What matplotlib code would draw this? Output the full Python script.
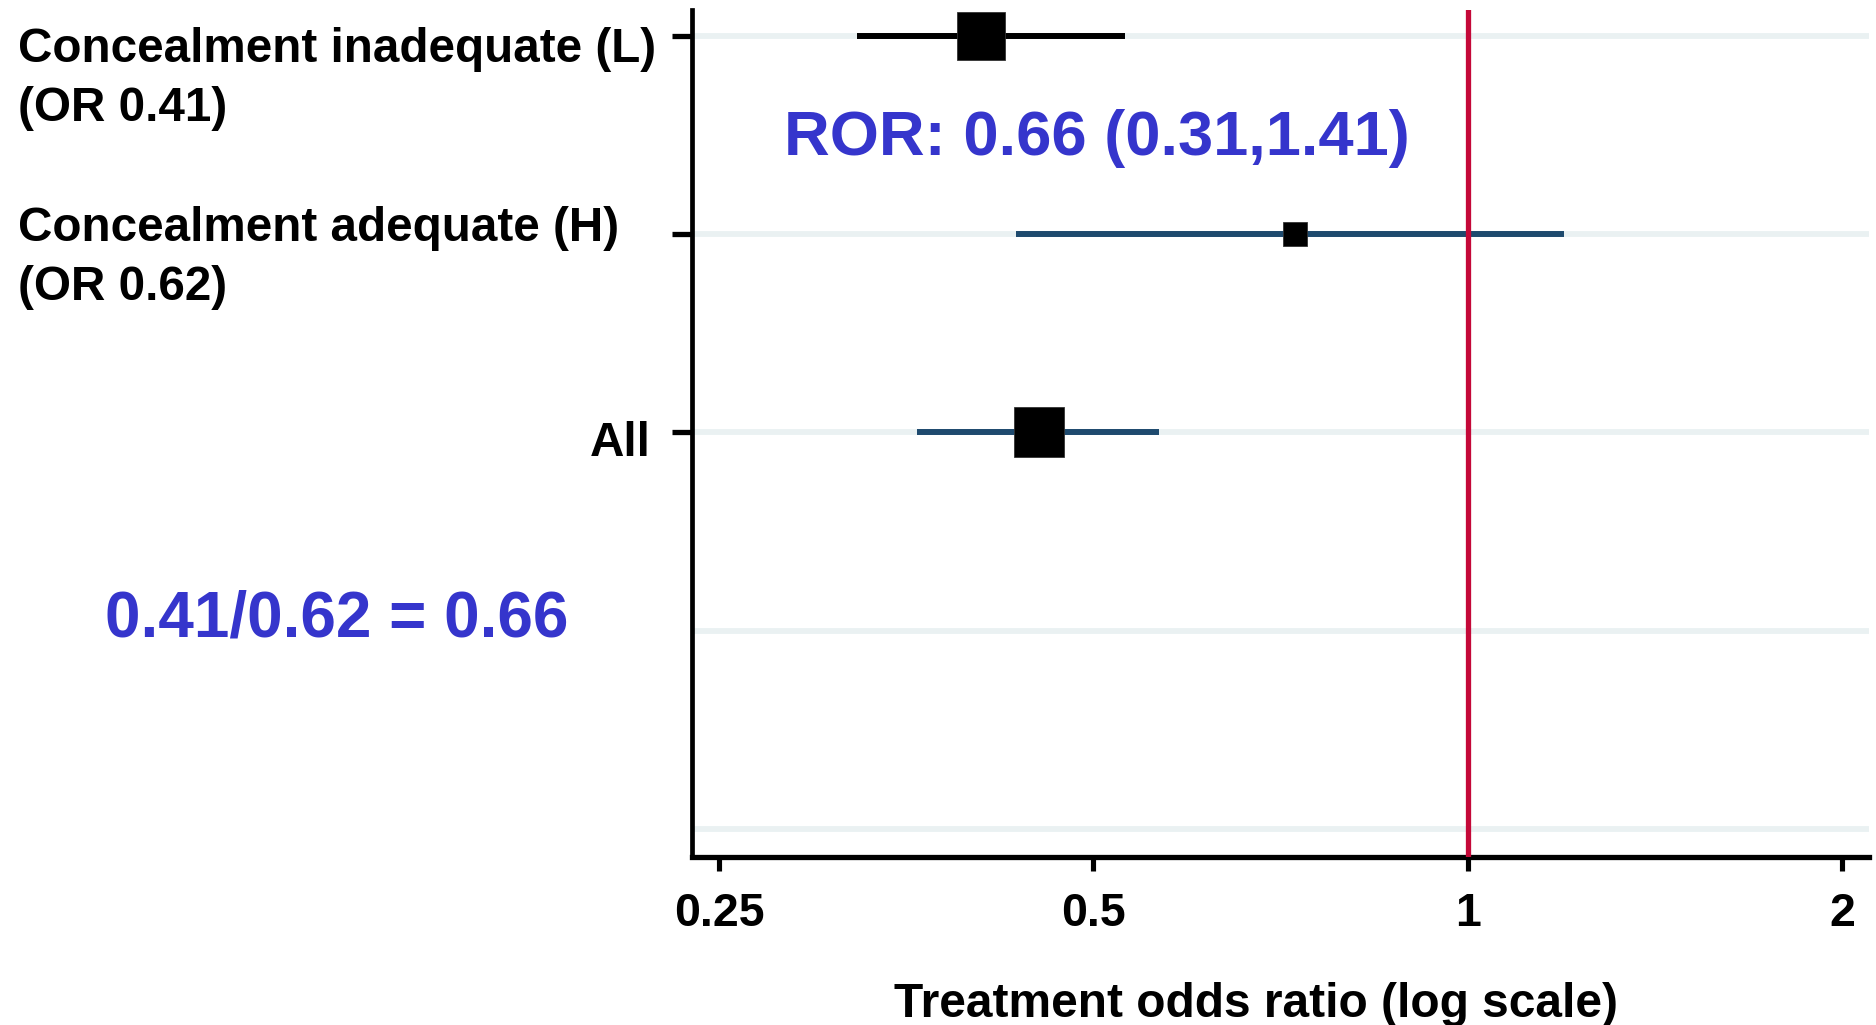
import matplotlib
matplotlib.use("Agg")
import matplotlib.pyplot as plt
from matplotlib.ticker import FixedLocator, FixedFormatter, NullLocator

# ---------------- data ----------------
group_names = ["Concealment inadequate (L)", "Concealment adequate (H)", "All"]
group_or_text = ["(OR 0.41)", "(OR 0.62)", ""]
estimates = [0.406, 0.727, 0.452]
ci_low = [0.323, 0.433, 0.361]
ci_high = [0.530, 1.196, 0.565]
rows = [5, 4, 3]
grid_rows = [5, 4, 3, 2, 1]
x_ticks = [0.25, 0.5, 1, 2]
x_tick_labels = ["0.25", "0.5", "1", "2"]
ror_text = "ROR: 0.66 (0.31,1.41)"
ratio_text = "0.41/0.62 = 0.66"
x_label = "Treatment odds ratio (log scale)"

# ---------------- style ----------------
box_pt = [34.6, 17.6, 36.5]
ci_colors = ["#000000", "#1E4A6E", "#1E4A6E"]
grid_color = "#EAF1F2"
ref_color = "#C40838"
note_color = "#3535CC"
FONT = "Liberation Sans"

plt.rcParams["font.family"] = [FONT, "DejaVu Sans"]
plt.rcParams["font.weight"] = "bold"

W, H, DPI = 1876, 1025, 100
fig = plt.figure(figsize=(W / DPI, H / DPI), dpi=DPI)
ax_l, ax_r, ax_b, ax_t = 692, 1869, 857, 10
ax = fig.add_axes([ax_l / W, 1 - ax_b / H, (ax_r - ax_l) / W, (ax_b - ax_t) / H])

ax.set_xscale("log")
ax.set_xlim(0.2378, 2.103)
ax.set_ylim(0.859, 5.129)

for gy in grid_rows:
    ax.axhline(gy, color=grid_color, lw=4.2, zorder=1)

for i, r in enumerate(rows):
    ax.plot([ci_low[i], ci_high[i]], [r, r], color=ci_colors[i], lw=4.3,
            solid_capstyle="butt", zorder=2)

ax.axvline(1, color=ref_color, lw=3.8, zorder=3)

for i, r in enumerate(rows):
    ax.plot([estimates[i]], [r], marker="s", ms=box_pt[i], color="black",
            mec="#333333", mew=0.6, linestyle="none", zorder=4)

# spines
for s in ["top", "right"]:
    ax.spines[s].set_visible(False)
ax.spines["left"].set_linewidth(3.4)
ax.spines["bottom"].set_linewidth(3.8)
ax.spines["bottom"].set_capstyle("projecting")

# x ticks
ax.xaxis.set_major_locator(FixedLocator(x_ticks))
ax.xaxis.set_major_formatter(FixedFormatter(x_tick_labels))
ax.xaxis.set_minor_locator(NullLocator())
ax.tick_params(axis="x", which="major", length=10, width=3.7, pad=15,
               labelsize=33.5, direction="out")
for lab in ax.get_xticklabels():
    lab.set_fontweight("bold")

# y ticks (marks only; labels drawn as text)
ax.set_yticks(rows)
ax.set_yticklabels([""] * len(rows))
ax.tick_params(axis="y", which="major", length=14.5, width=3.8, direction="out")

# x label
ax.set_xlabel(x_label, fontsize=34.5, fontweight="bold")
ax.xaxis.label.set_va("baseline")
ax.xaxis.set_label_coords((1256.5 - ax_l) / (ax_r - ax_l), -(1017 - ax_b) / (ax_b - ax_t))

# y labels
name_offsets_px = [26, 7, 24]   # baseline offset below row (pixels)
line_gap_px = 59
for i, r in enumerate(rows):
    if group_or_text[i]:
        ax.annotate(group_names[i], xy=(18 / W, r), xycoords=("figure fraction", "data"),
                    xytext=(0, -name_offsets_px[i]), textcoords="offset pixels",
                    ha="left", va="baseline", fontsize=34.3, fontweight="bold",
                    annotation_clip=False)
        ax.annotate(group_or_text[i], xy=(18 / W, r), xycoords=("figure fraction", "data"),
                    xytext=(0, -name_offsets_px[i] - line_gap_px), textcoords="offset pixels",
                    ha="left", va="baseline", fontsize=34.3, fontweight="bold",
                    annotation_clip=False)
    else:
        ax.annotate(group_names[i], xy=(651 / W, r), xycoords=("figure fraction", "data"),
                    xytext=(0, -name_offsets_px[i]), textcoords="offset pixels",
                    ha="right", va="baseline", fontsize=34.3, fontweight="bold",
                    annotation_clip=False)

# blue annotations
fig.text(784 / W, 1 - 155 / H, ror_text, color=note_color, fontsize=45.5,
         fontweight="bold", ha="left", va="baseline")
fig.text(105 / W, 1 - 637 / H, ratio_text, color=note_color, fontsize=46,
         fontweight="bold", ha="left", va="baseline")

fig.savefig("out.png", dpi=DPI, facecolor="white")
